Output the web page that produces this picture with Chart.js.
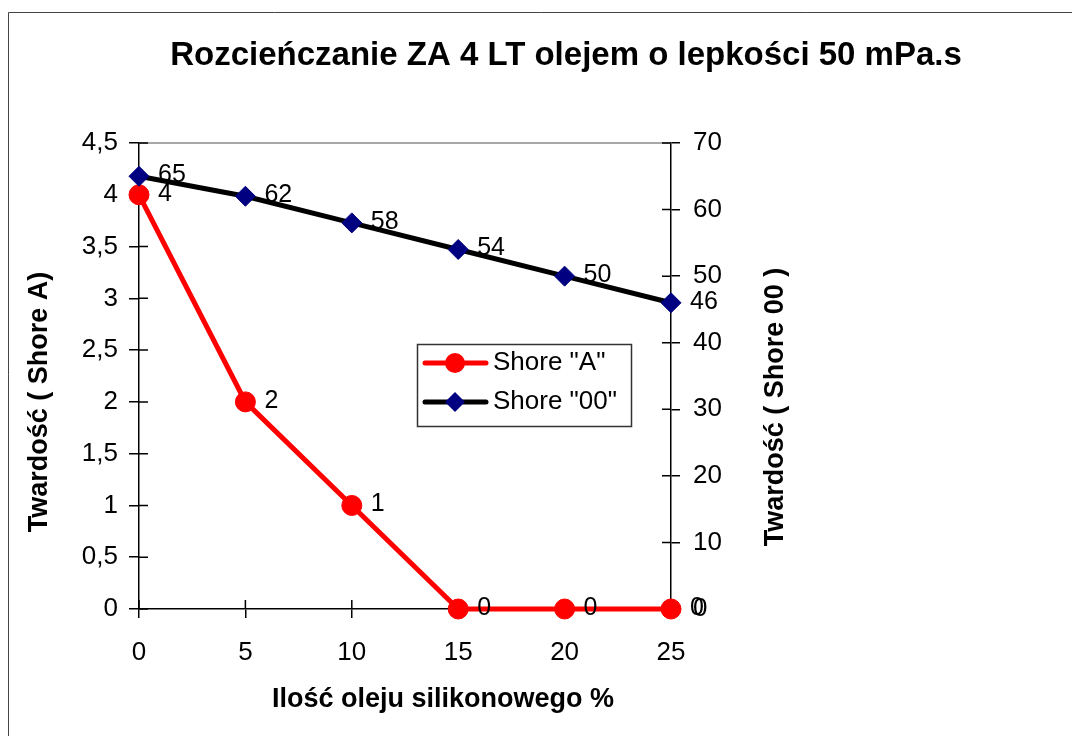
<!DOCTYPE html>
<html>
<head>
<meta charset="utf-8">
<script src="https://cdn.jsdelivr.net/npm/chart.js@4.4.1/dist/chart.umd.min.js"></script>
<style>
  html, body { margin: 0; padding: 0; background: #fff; }
  #wrap { width: 1072px; height: 736px; }
</style>
</head>
<body>
<div id="wrap"><canvas id="chart" width="1072" height="736"></canvas></div>
<script>
const FONT = '"Liberation Sans", Arial, sans-serif';

const chartTitle = 'Rozcieńczanie ZA 4 LT olejem o lepkości 50 mPa.s';
const xTitle = 'Ilość oleju silikonowego %';
const leftTitle = 'Twardość ( Shore A)';
const rightTitle = 'Twardość ( Shore 00 )';

// data
const oilPercent = [0, 5, 10, 15, 20, 25];
const shoreA = [4, 2, 1, 0, 0, 0];
const shore00 = [65, 62, 58, 54, 50, 46];
const seriesNames = ['Shore "A"', 'Shore "00"'];

const toPoints = (vals) => oilPercent.map((x, i) => ({ x: x, y: vals[i] }));
const comma = (v) => String(v).replace('.', ',');

// frame, inner tick halves, value labels, titles and the legend box
const decor = {
  id: 'decor',
  beforeDraw(chart) {
    const ctx = chart.ctx;
    ctx.save();
    ctx.fillStyle = '#fff';
    ctx.fillRect(0, 0, chart.width, chart.height);
    ctx.strokeStyle = '#444';
    ctx.lineWidth = 1;
    ctx.beginPath();
    ctx.moveTo(8.5, chart.height);
    ctx.lineTo(8.5, 12.5);
    ctx.lineTo(chart.width, 12.5);
    ctx.stroke();
    ctx.restore();
  },
  beforeDatasetsDraw(chart) {
    const { ctx, chartArea: a, scales } = chart;
    ctx.save();
    ctx.strokeStyle = '#8a8a8a';
    ctx.lineWidth = 1.5;
    ctx.beginPath();
    ctx.moveTo(a.left, a.top);
    ctx.lineTo(a.right, a.top);
    ctx.stroke();

    ctx.strokeStyle = '#000';
    ctx.lineWidth = 1.5;
    ctx.beginPath();
    scales.x.ticks.forEach(t => {
      const px = scales.x.getPixelForValue(t.value);
      ctx.moveTo(px, a.bottom);
      ctx.lineTo(px, a.bottom - 9);
    });
    scales.yA.ticks.forEach(t => {
      const py = scales.yA.getPixelForValue(t.value);
      ctx.moveTo(a.left, py);
      ctx.lineTo(a.left + 9, py);
    });
    scales.y00.ticks.forEach(t => {
      const py = scales.y00.getPixelForValue(t.value);
      ctx.moveTo(a.right, py);
      ctx.lineTo(a.right - 9, py);
    });
    ctx.stroke();
    ctx.restore();
  },
  afterDatasetsDraw(chart) {
    const ctx = chart.ctx;
    ctx.save();
    ctx.fillStyle = '#000';
    ctx.font = '25px ' + FONT;
    ctx.textAlign = 'left';
    ctx.textBaseline = 'middle';
    chart.data.datasets.forEach((ds, di) => {
      chart.getDatasetMeta(di).data.forEach((pt, i) => {
        ctx.fillText(String(ds.data[i].y), pt.x + 19, pt.y - 1);
      });
    });
    ctx.restore();
  },
  afterDraw(chart) {
    const ctx = chart.ctx;
    ctx.save();
    ctx.fillStyle = '#000';
    ctx.textAlign = 'center';
    ctx.textBaseline = 'alphabetic';

    ctx.font = 'bold 33px ' + FONT;
    ctx.fillText(chartTitle, 566, 65);

    ctx.font = 'bold 27px ' + FONT;
    ctx.fillText(xTitle, 443, 707);

    ctx.save();
    ctx.translate(47, 402);
    ctx.rotate(-Math.PI / 2);
    ctx.fillText(leftTitle, 0, 0);
    ctx.restore();

    ctx.save();
    ctx.translate(783, 407);
    ctx.rotate(-Math.PI / 2);
    ctx.fillText(rightTitle, 0, 0);
    ctx.restore();

    // legend
    const lx = 417, ly = 344, lw = 214, lh = 82;
    ctx.fillStyle = '#fff';
    ctx.fillRect(lx, ly, lw, lh);
    ctx.strokeStyle = '#333';
    ctx.lineWidth = 1.5;
    ctx.strokeRect(lx + 0.5, ly + 0.5, lw, lh);

    const rows = [363, 402];
    chart.data.datasets.forEach((ds, i) => {
      const y = rows[i];
      ctx.strokeStyle = ds.borderColor;
      ctx.lineWidth = 5;
      ctx.lineCap = 'round';
      ctx.beginPath();
      ctx.moveTo(425, y);
      ctx.lineTo(486, y);
      ctx.stroke();
      ctx.fillStyle = ds.pointBackgroundColor;
      ctx.beginPath();
      if (ds.pointStyle === 'circle') {
        ctx.arc(455, y, 10, 0, Math.PI * 2);
      } else {
        ctx.moveTo(455, y - 10);
        ctx.lineTo(465, y);
        ctx.lineTo(455, y + 10);
        ctx.lineTo(445, y);
        ctx.closePath();
      }
      ctx.fill();
      ctx.fillStyle = '#000';
      ctx.font = '26px ' + FONT;
      ctx.textAlign = 'left';
      ctx.textBaseline = 'middle';
      ctx.fillText(ds.label, 493, y);
    });
    ctx.restore();
  }
};

const tickFont = { family: FONT, size: 26 };

new Chart(document.getElementById('chart'), {
  type: 'line',
  data: {
    datasets: [
      {
        label: seriesNames[0],
        data: toPoints(shoreA),
        xAxisID: 'x',
        yAxisID: 'yA',
        borderColor: '#ff0000',
        backgroundColor: '#ff0000',
        pointBackgroundColor: '#ff0000',
        pointBorderColor: '#ff0000',
        borderWidth: 5,
        pointStyle: 'circle',
        pointRadius: 10,
        pointBorderWidth: 1,
        tension: 0,
        clip: false,
        order: 1
      },
      {
        label: seriesNames[1],
        data: toPoints(shore00),
        xAxisID: 'x',
        yAxisID: 'y00',
        borderColor: '#000000',
        backgroundColor: '#000080',
        pointBackgroundColor: '#000080',
        pointBorderColor: '#000080',
        borderWidth: 5,
        pointStyle: 'rectRot',
        pointRadius: 10,
        pointBorderWidth: 1,
        tension: 0,
        clip: false,
        order: 0
      }
    ]
  },
  options: {
    responsive: false,
    animation: false,
    events: [],
    layout: { padding: { top: 143, left: 0, right: 0, bottom: 0 } },
    plugins: {
      legend: { display: false },
      title: { display: false },
      tooltip: { enabled: false }
    },
    scales: {
      x: {
        type: 'linear',
        position: 'bottom',
        min: 0,
        max: 25,
        ticks: { stepSize: 5, color: '#000', font: tickFont, padding: 19, maxRotation: 0 },
        grid: { drawOnChartArea: false, drawTicks: true, tickLength: 9, color: '#000', lineWidth: 1.5 },
        border: { color: '#000', width: 1.5 },
        afterFit: (s) => { s.height = 127; }
      },
      yA: {
        type: 'linear',
        position: 'left',
        min: 0,
        max: 4.5,
        ticks: { stepSize: 0.5, color: '#000', font: tickFont, padding: 11, callback: (v) => comma(v) },
        grid: { drawOnChartArea: false, drawTicks: true, tickLength: 10, color: '#000', lineWidth: 1.5 },
        border: { color: '#000', width: 1.5 },
        afterFit: (s) => { s.width = 139; }
      },
      y00: {
        type: 'linear',
        position: 'right',
        min: 0,
        max: 70,
        ticks: { stepSize: 10, color: '#000', font: tickFont, padding: 13 },
        grid: { drawOnChartArea: false, drawTicks: true, tickLength: 9, color: '#000', lineWidth: 1.5 },
        border: { color: '#000', width: 1.5 },
        afterFit: (s) => { s.width = 401; }
      }
    }
  },
  plugins: [decor]
});
</script>
</body>
</html>
